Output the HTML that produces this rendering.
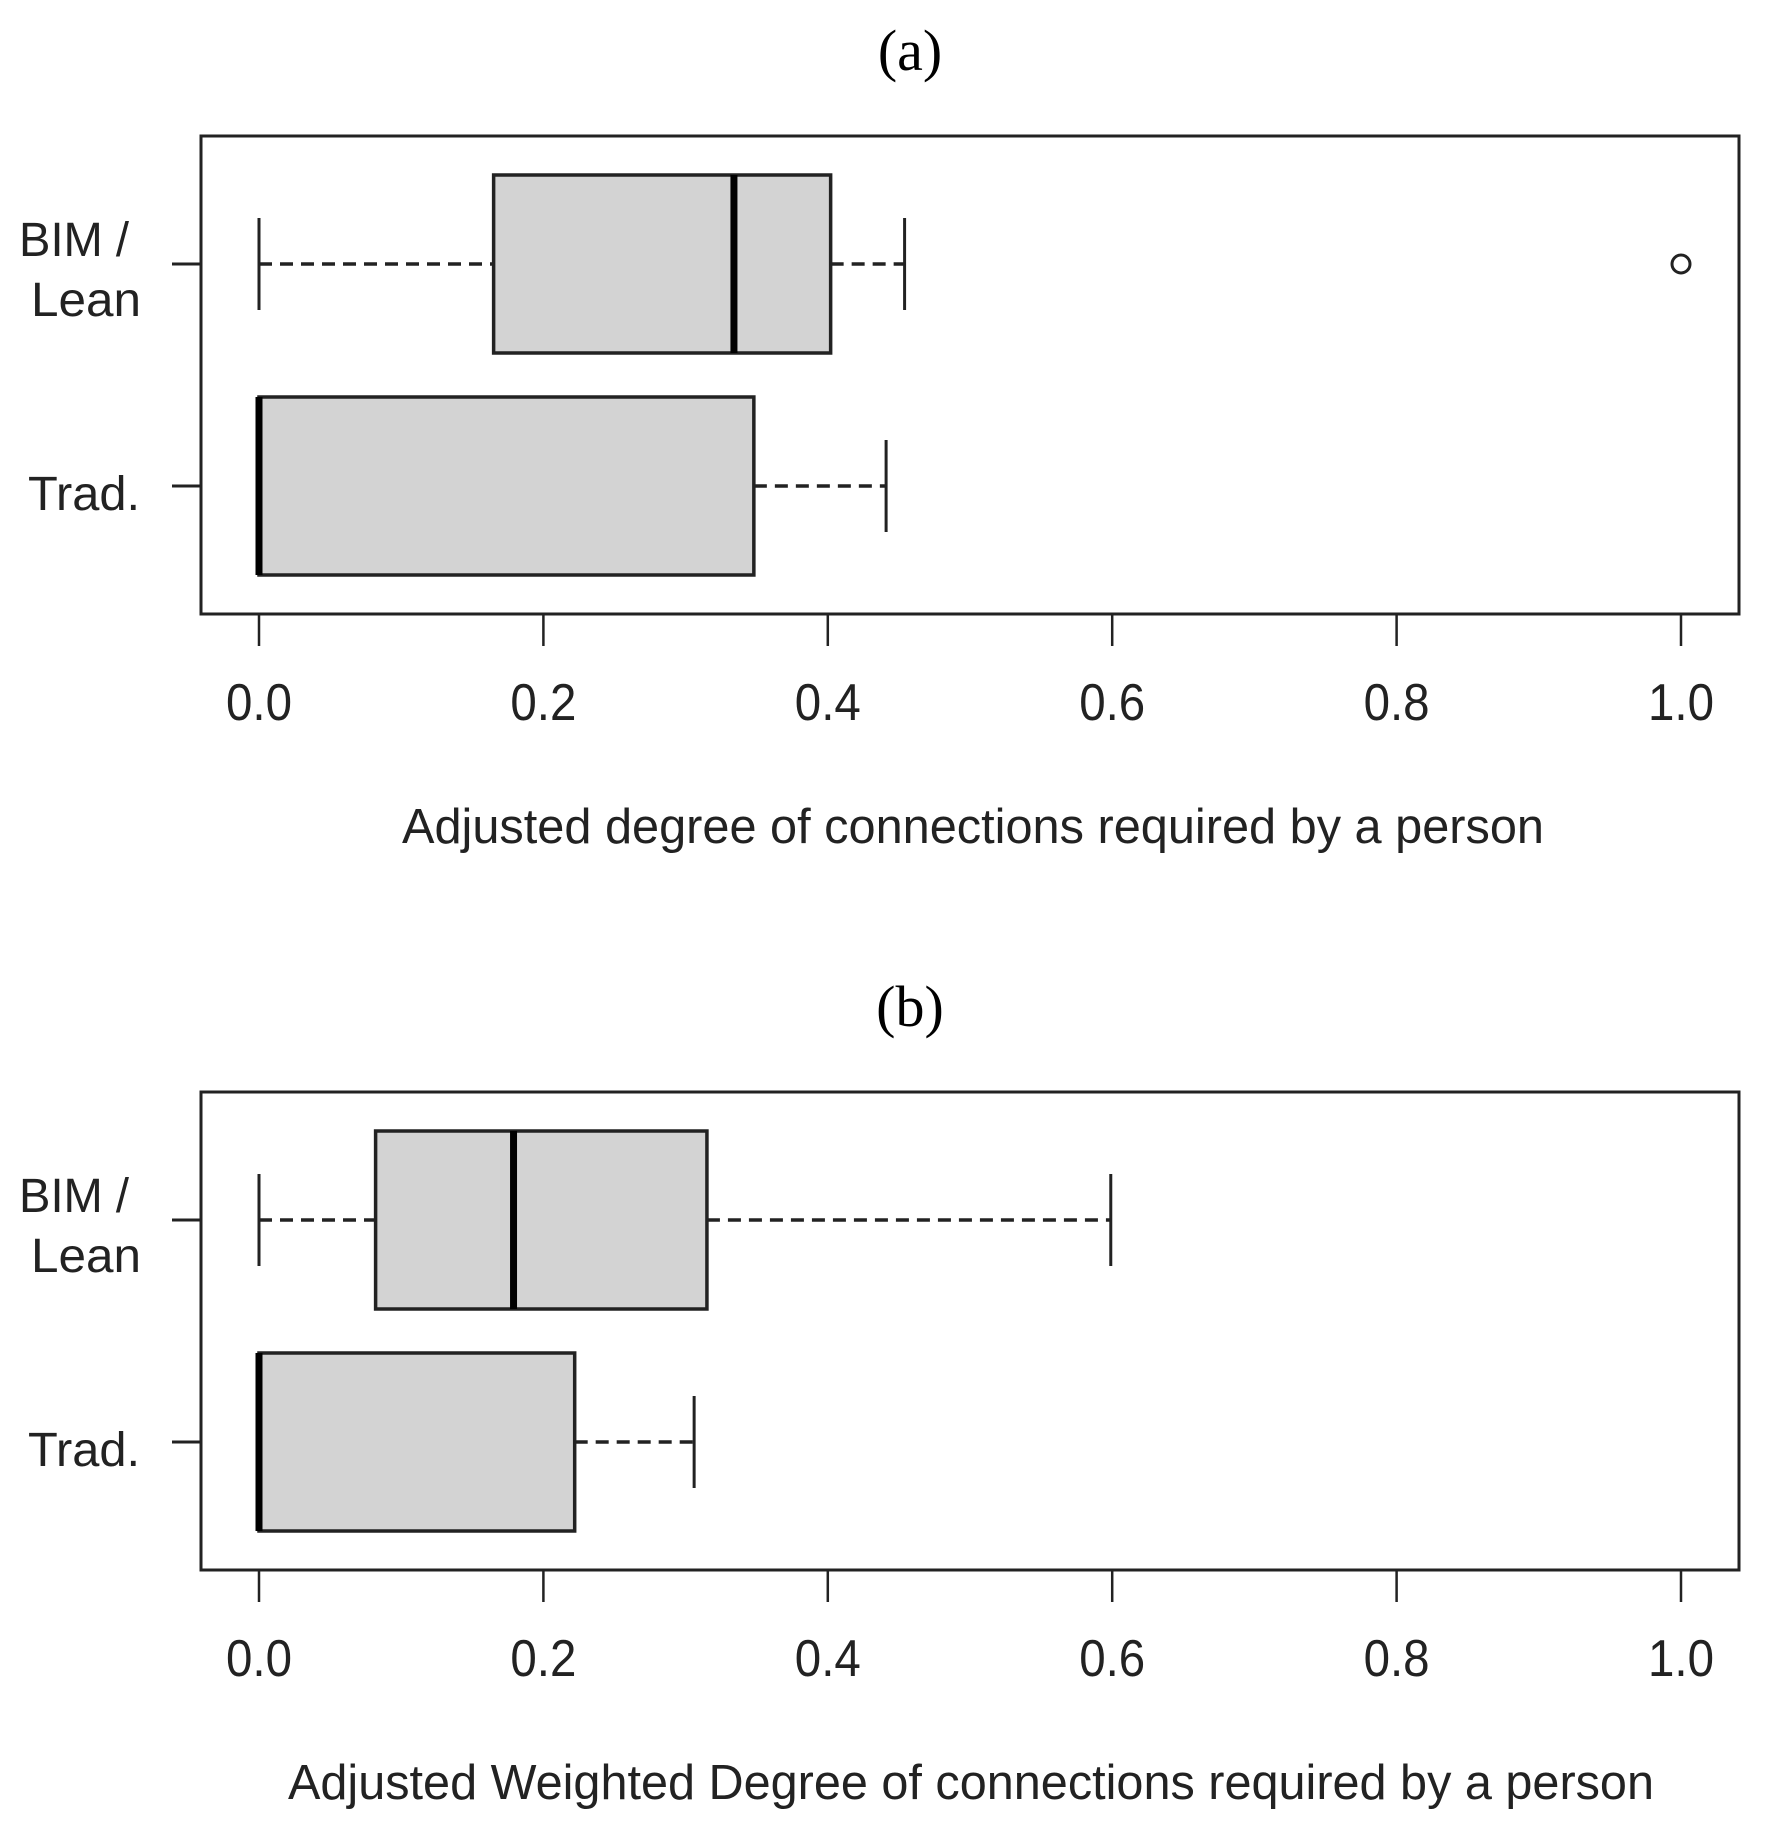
<!DOCTYPE html>
<html><head><meta charset="utf-8">
<style>
html,body{margin:0;padding:0;background:#fff;}
svg{display:block;}
text{font-family:"Liberation Sans",Arial,sans-serif;fill:#222;}
.ttl{font-family:"Liberation Serif","Times New Roman",serif;fill:#000;}
</style></head>
<body>
<svg id="chart" width="1769" height="1834" viewBox="0 0 1769 1834" xmlns="http://www.w3.org/2000/svg"></svg>
<script>
const panelTitles = ["(a)", "(b)"];
const axisTitles = ["Adjusted degree of connections required by a person", "Adjusted Weighted Degree of connections required by a person"];
const categories = ["BIM / Lean", "Trad."];
const tickValues = [0, 0.2, 0.4, 0.6, 0.8, 1.0];
const tickLabels = ["0.0", "0.2", "0.4", "0.6", "0.8", "1.0"];
// [min, q1, median, q3, max]
const panelA_bim = [0, 0.165, 0.334, 0.402, 0.454];
const panelA_trad = [0, 0, 0, 0.348, 0.441];
const panelA_outliers_bim = [1.0];
const panelA_outliers_trad = [];
const panelB_bim = [0, 0.082, 0.179, 0.315, 0.599];
const panelB_trad = [0, 0, 0, 0.222, 0.306];
const panelB_outliers_bim = [];
const panelB_outliers_trad = [];

const NS = "http://www.w3.org/2000/svg";
const svg = document.getElementById("chart");
function mk(tag, attrs, parent) {
  const e = document.createElementNS(NS, tag);
  for (const k in attrs) e.setAttribute(k, attrs[k]);
  (parent || svg).appendChild(e);
  return e;
}
const X0 = 259, X1 = 1681;
function xs(v) { return X0 + v * (X1 - X0); }

function drawPanel(off, idx, stats, outs) {
  const g = mk("g", {});
  
  
  const t = mk("text", {x: 910, y: 70 + off, "text-anchor": "middle", "font-size": 58, class: "ttl"}, g);
  t.textContent = panelTitles[idx];
  
  
  const fr = mk("rect", {x: 201, y: 136 + off, width: 1538, height: 478, fill: "none", stroke: "#222", "stroke-width": 3}, g);
  
  
  tickValues.forEach((v, i) => {
    const tk = mk("line", {x1: xs(v), x2: xs(v), y1: 614 + off, y2: 646 + off, stroke: "#222", "stroke-width": 2.5}, g);
    
    
    const tl = mk("text", {x: xs(v), y: 720 + off, "text-anchor": "middle", "font-size": 52, textLength: 66, lengthAdjust: "spacingAndGlyphs"}, g);
    tl.textContent = tickLabels[i];
    
    
  });
  const at = mk("text", {x: idx === 0 ? 973 : 971, y: 843 + off, "text-anchor": "middle", "font-size": 49, textLength: idx === 0 ? 1142 : 1366, lengthAdjust: "spacingAndGlyphs"}, g);
  at.textContent = axisTitles[idx];
  
  
  const centers = [264 + off, 486 + off];
  const halfBox = 89, halfCap = 46;
  stats.forEach((s, ci) => {
    const cy = centers[ci];
    const bg = mk("g", {}, g);
    
    
    const yt = mk("line", {x1: 172, x2: 201, y1: cy, y2: cy, stroke: "#222", "stroke-width": 3}, bg);
    
    
    const w1 = mk("line", {x1: xs(s[0]), x2: xs(s[1]), y1: cy, y2: cy, stroke: "#222", "stroke-width": 3.5, "stroke-dasharray": "13,8"}, bg);
    
    
    const w2 = mk("line", {x1: xs(s[3]), x2: xs(s[4]), y1: cy, y2: cy, stroke: "#222", "stroke-width": 3.5, "stroke-dasharray": "13,8"}, bg);
    
    
    [s[0], s[4]].forEach(v => {
      const c = mk("line", {x1: xs(v), x2: xs(v), y1: cy - halfCap, y2: cy + halfCap, stroke: "#222", "stroke-width": 3}, bg);
      
      
    });
    const r = mk("rect", {x: xs(s[1]), y: cy - halfBox, width: xs(s[3]) - xs(s[1]), height: 2 * halfBox, fill: "#d3d3d3", stroke: "#222", "stroke-width": 3.5}, bg);
    
    
    const m = mk("line", {x1: xs(s[2]), x2: xs(s[2]), y1: cy - halfBox, y2: cy + halfBox, stroke: "#000", "stroke-width": 7}, bg);
    
    
    outs[ci].forEach(v => {
      const o = mk("circle", {cx: xs(v), cy: cy, r: 9, fill: "none", stroke: "#222", "stroke-width": 3}, bg);
      
      
    });
  });
  const l1 = mk("text", {x: 19, y: 256 + off, "font-size": 48, textLength: 110, lengthAdjust: "spacingAndGlyphs"}, g);
  l1.textContent = "BIM /";
  
  
  const l2 = mk("text", {x: 31, y: 316 + off, "font-size": 48, textLength: 110, lengthAdjust: "spacingAndGlyphs"}, g);
  l2.textContent = "Lean";
  
  
  const l3 = mk("text", {x: 28, y: 510 + off, "font-size": 48, textLength: 112, lengthAdjust: "spacingAndGlyphs"}, g);
  l3.textContent = categories[1];
  
  
}
drawPanel(0, 0, [panelA_bim, panelA_trad], [panelA_outliers_bim, panelA_outliers_trad]);
drawPanel(956, 1, [panelB_bim, panelB_trad], [panelB_outliers_bim, panelB_outliers_trad]);
</script>
</body></html>
